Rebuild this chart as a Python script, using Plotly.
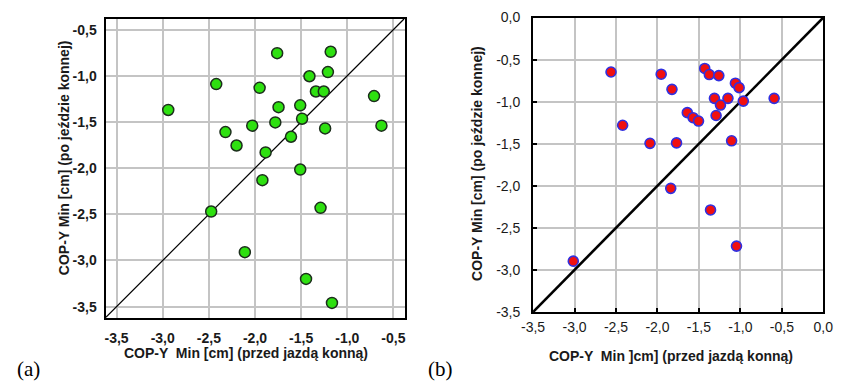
import plotly.graph_objects as go

W, H = 845, 389

# Panel (a): COP-Y Min before riding (x) vs after riding (y), cm
a_before = [-2.94, -2.42, -2.32, -2.20, -2.03, -1.95, -1.885, -1.92, -1.76, -1.745,
            -1.78, -1.61, -1.51, -1.49, -1.51, -1.41, -1.34, -1.255, -1.21, -1.18,
            -1.24, -0.71, -0.63, -2.475, -1.29, -2.11, -1.447, -1.166]
a_after = [-1.37, -1.09, -1.61, -1.755, -1.54, -1.13, -1.83, -2.13, -0.755, -1.34,
           -1.505, -1.66, -1.32, -1.465, -2.015, -1.005, -1.17, -1.17, -0.96, -0.74,
           -1.57, -1.22, -1.54, -2.47, -2.43, -2.91, -3.20, -3.46]

# Panel (b)
b_before = [-2.56, -2.42, -2.09, -1.955, -1.825, -1.77, -1.84, -1.64, -1.57, -1.505,
            -1.43, -1.375, -1.26, -1.313, -1.24, -1.293, -1.15, -1.106, -1.06, -1.015,
            -0.965, -0.593, -1.36, -1.047, -3.015]
b_after = [-0.647, -1.28, -1.495, -0.673, -0.853, -1.49, -2.03, -1.13, -1.19, -1.23,
           -0.605, -0.677, -0.69, -0.96, -1.04, -1.164, -0.96, -1.465, -0.78, -0.833,
           -0.993, -0.96, -2.287, -2.717, -2.896]

a_ticks = [-3.5, -3.0, -2.5, -2.0, -1.5, -1.0, -0.5]
b_ticks = [-3.5, -3.0, -2.5, -2.0, -1.5, -1.0, -0.5, 0.0]
a_range = [-3.62, -0.38]
b_range = [-3.5, 0.0]

a_xtitle = "COP-Y  Min [cm] (przed jazdą konną)"
a_ytitle = "COP-Y Min [cm] (po jeździe konnej)"
b_xtitle = "COP-Y  Min ]cm] (przed jazdą konną)"
b_ytitle = "COP-Y Min [cm] (po jeździe konnej)"


def px_x(p):
    return p / W


def px_y(p):
    return 1 - p / H


def comma(v):
    return f"{v:.1f}".replace(".", ",")


a_ticktext = [f"<b>{comma(v)}</b>" for v in a_ticks]
b_ticktext = [comma(v) for v in b_ticks]

fig = go.Figure()

# identity lines y = x across each panel
fig.add_trace(go.Scatter(x=a_range, y=a_range, mode="lines",
                         line=dict(color="black", width=1.2),
                         xaxis="x", yaxis="y", showlegend=False, hoverinfo="skip"))
fig.add_trace(go.Scatter(x=b_range, y=b_range, mode="lines",
                         line=dict(color="black", width=2.6),
                         xaxis="x2", yaxis="y2", showlegend=False, hoverinfo="skip"))

fig.add_trace(go.Scatter(x=a_before, y=a_after, mode="markers",
                         marker=dict(size=11, color="#2ee010",
                                     line=dict(color="#1c2e1c", width=1.5)),
                         xaxis="x", yaxis="y", showlegend=False))
fig.add_trace(go.Scatter(x=b_before, y=b_after, mode="markers",
                         marker=dict(size=10, color="#f01010",
                                     line=dict(color="#3030e0", width=1.6)),
                         xaxis="x2", yaxis="y2", showlegend=False))

grid = dict(showgrid=True, gridcolor="#c4c4c4", gridwidth=2, zeroline=False,
            showline=True, mirror=True, linecolor="black", linewidth=2)

a_font = dict(family="Liberation Sans, Arial", size=14, color="#1a1a1a")
b_font = dict(family="Liberation Sans, Arial", size=14, color="#1a1a1a")

fig.update_layout(
    width=W, height=H,
    margin=dict(l=0, r=0, t=0, b=0),
    paper_bgcolor="white", plot_bgcolor="white",
    xaxis=dict(domain=[px_x(96), px_x(403)], range=a_range, tickvals=a_ticks,
               ticktext=a_ticktext, tickfont=a_font, ticks="", ticklabelstandoff=6,
               anchor="y", **grid),
    yaxis=dict(domain=[px_y(323), px_y(11)], range=a_range, tickvals=a_ticks,
               ticktext=a_ticktext, tickfont=a_font, ticks="", ticklabelstandoff=4,
               anchor="x", **grid),
    xaxis2=dict(domain=[px_x(535), px_x(833)], range=b_range, tickvals=b_ticks,
                ticktext=b_ticktext, tickfont=b_font, ticks="inside", ticklen=4,
                tickwidth=2, tickcolor="black", ticklabelstandoff=1, anchor="y2", **grid),
    yaxis2=dict(domain=[px_y(317), px_y(10)], range=b_range, tickvals=b_ticks,
                ticktext=b_ticktext, tickfont=b_font, ticks="inside", ticklen=4,
                tickwidth=2, tickcolor="black", ticklabelstandoff=8, anchor="x2", **grid),
)

title_font = dict(family="Liberation Sans, Arial", size=14, color="#1a1a1a")
label_font = dict(family="Liberation Serif, serif", size=21, color="black")

ann = [
    dict(text=f"<b>{a_xtitle}</b>", x=px_x(240), y=px_y(360), font=title_font),
    dict(text=f"<b>{a_ytitle}</b>", x=px_x(53), y=px_y(156), font=title_font, textangle=-90),
    dict(text=f"<b>{b_xtitle}</b>", x=px_x(677), y=px_y(363), font=title_font),
    dict(text=f"<b>{b_ytitle}</b>", x=px_x(478), y=px_y(162), font=title_font, textangle=-90),
    dict(text="(a)", x=px_x(17), y=px_y(377), font=label_font),
    dict(text="(b)", x=px_x(440), y=px_y(377), font=label_font),
]
for a in ann:
    fig.add_annotation(xref="paper", yref="paper", showarrow=False,
                       xanchor="center", yanchor="middle", **a)

fig.write_html("out.html")
